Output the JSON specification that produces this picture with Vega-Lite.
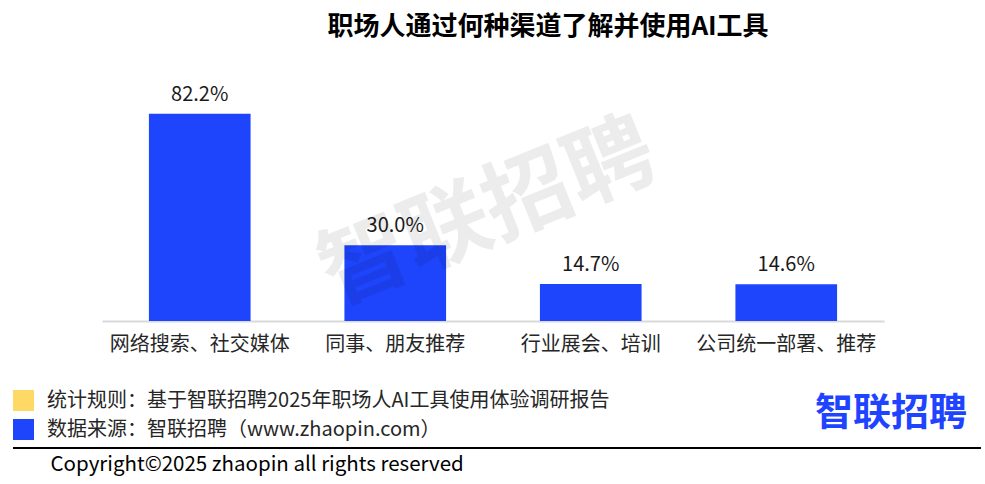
{
  "$schema": "https://vega.github.io/schema/vega-lite/v6.json",
  "width": 782,
  "height": 227,
  "autosize": {"type": "none"},
  "padding": {"left": 102, "top": 94, "right": 101, "bottom": 163},
  "background": "white",
  "config": {
    "view": {"stroke": null},
    "font": "Noto Sans CJK SC",
    "text": {"font": "Noto Sans CJK SC"}
  },
  "title": {
    "text": "职场人通过何种渠道了解并使用AI工具",
    "anchor": "middle",
    "dx": 55,
    "fontSize": 26,
    "fontWeight": "bold",
    "font": "Noto Sans CJK SC",
    "color": "#000000",
    "offset": 19,
    "baseline": "bottom"
  },
  "data": {
    "values": [
      {"channel": "网络搜索、社交媒体", "value": 0.822},
      {"channel": "同事、朋友推荐", "value": 0.300},
      {"channel": "行业展会、培训", "value": 0.147},
      {"channel": "公司统一部署、推荐", "value": 0.146}
    ]
  },
  "resolve": {"scale": {"x": "independent"}, "axis": {"x": "independent"}},
  "layer": [
    {
      "encoding": {
        "x": {
          "field": "channel",
          "type": "nominal",
          "sort": null,
          "scale": {"paddingInner": 0.48, "paddingOuter": 0.24},
          "axis": {
            "labelAngle": 0,
            "labelFontSize": 20,
            "labelColor": "#262626",
            "labelFont": "Noto Sans CJK SC",
            "labelPadding": 13,
            "ticks": false,
            "domainColor": "#d9d9d9",
            "domainWidth": 2,
            "grid": false,
            "title": "Copyright©2025 zhaopin all rights reserved",
            "titleFont": "Noto Sans CJK SC",
            "titleFontSize": 20.5,
            "titleFontWeight": "normal",
            "titleColor": "#000000",
            "titleAlign": "left",
            "titleAnchor": "start",
            "titleBaseline": "middle",
            "titleX": -52,
            "titleY": 143
          }
        },
        "y": {
          "field": "value",
          "type": "quantitative",
          "scale": {"domain": [0, 0.9]},
          "axis": null
        }
      },
      "layer": [
        {
          "mark": {"type": "bar"},
          "encoding": {
            "color": {
              "datum": "数据来源：智联招聘（www.zhaopin.com）",
              "type": "nominal",
              "scale": {
                "domain": ["统计规则：基于智联招聘2025年职场人AI工具使用体验调研报告", "数据来源：智联招聘（www.zhaopin.com）"],
                "range": ["#ffd966", "#1e44fc"]
              },
              "legend": {
                "title": null,
                "orient": "none",
                "legendX": -89,
                "legendY": 296,
                "padding": 0,
                "symbolType": "square",
                "symbolSize": 441,
                "symbolStrokeWidth": 0,
                "symbolOpacity": 1,
                "labelFontSize": 20,
                "labelFont": "Noto Sans CJK SC",
                "labelColor": "#262626",
                "labelOffset": 13,
                "labelLimit": 700,
                "rowPadding": 8
              }
            }
          }
        },
        {
          "mark": {"type": "text", "baseline": "alphabetic", "dy": -13, "fontSize": 20, "color": "#1a1a1a"},
          "encoding": {
            "text": {"field": "value", "type": "quantitative", "format": ".1%"}
          }
        }
      ]
    },
    {
      "data": {"values": [{}]},
      "mark": {"type": "text", "text": "智联招聘", "fontSize": 88, "fontWeight": "bold", "angle": 338, "color": "#000000", "opacity": 0.07, "align": "center", "baseline": "middle"},
      "encoding": {
        "x": {"datum": 0.494, "type": "quantitative", "scale": {"domain": [0, 1], "zero": false, "nice": false}, "axis": null},
        "y": {"datum": 0.42, "type": "quantitative"}
      }
    },
    {
      "data": {"values": [{}]},
      "mark": {"type": "rule", "color": "#000000", "strokeWidth": 2},
      "encoding": {
        "x": {"datum": -0.1138, "type": "quantitative", "scale": {"domain": [0, 1], "zero": false, "nice": false}, "axis": null},
        "x2": {"datum": 1.124},
        "y": {"datum": -0.5036, "type": "quantitative"}
      }
    },
    {
      "data": {"values": [{}]},
      "mark": {"type": "text", "text": "智联招聘", "fontSize": 38, "fontWeight": "bold", "color": "#1f44ff", "align": "center", "baseline": "middle"},
      "encoding": {
        "x": {"datum": 1.009, "type": "quantitative", "scale": {"domain": [0, 1], "zero": false, "nice": false}, "axis": null},
        "y": {"datum": -0.369, "type": "quantitative"}
      }
    }
  ]
}
